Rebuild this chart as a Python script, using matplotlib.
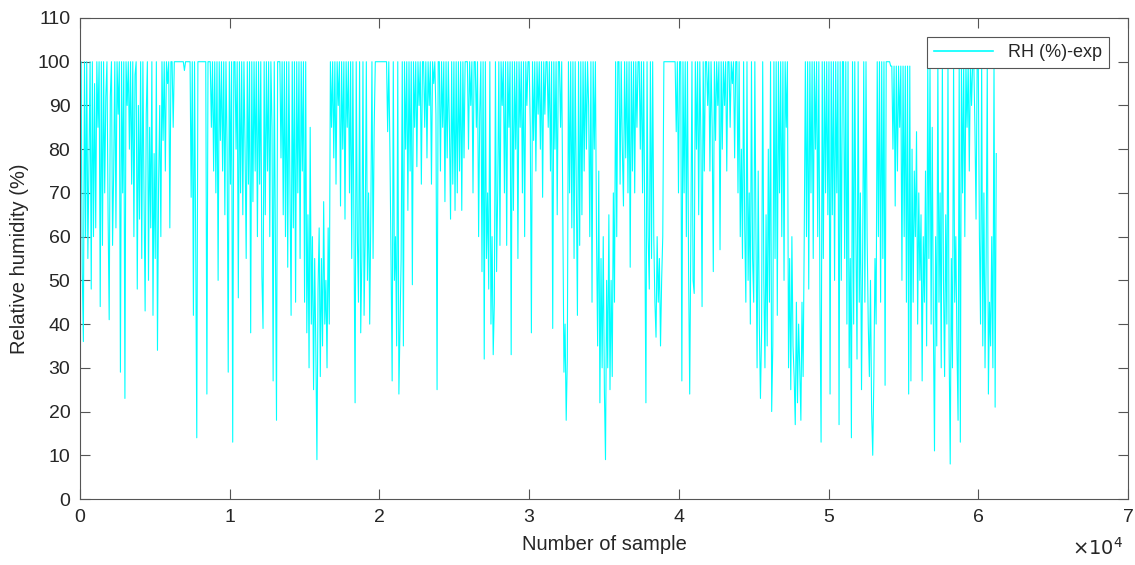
import numpy as np
import matplotlib
matplotlib.use("Agg")
import matplotlib.pyplot as plt

plt.rcParams['font.family'] = ['Liberation Sans', 'DejaVu Sans']

# Relative humidity samples (one value every 75 samples)
sample_step = 75
rh_values = [
    # 0 - 3000
    45, 100, 52, 36, 100, 60, 100, 55, 78, 100, 48, 100, 60, 95, 62, 100, 85, 100, 44, 100,
    58, 100, 70, 92, 100, 65, 41, 92, 100, 58, 75, 100, 62, 100, 88, 100, 29, 100, 70, 100,
    # 3000 - 6000
    23, 100, 90, 100, 80, 100, 72, 100, 60, 97, 100, 48, 90, 64, 100, 55, 100, 70, 43, 88,
    100, 50, 85, 62, 100, 42, 79, 55, 100, 34, 72, 90, 60, 100, 82, 100, 75, 100, 95, 100,
    # 6000 - 9000
    62, 100, 100, 85, 100, 100, 100, 100, 100, 100, 100, 100, 100, 98, 100, 100, 100, 100, 100, 69,
    100, 42, 100, 60, 14, 100, 100, 100, 100, 100, 100, 100, 100, 24, 100, 100, 100, 85, 100, 75,
    # 9000 - 12000
    100, 70, 100, 50, 100, 82, 100, 75, 100, 65, 100, 80, 29, 100, 72, 100, 13, 100, 100, 80,
    100, 46, 100, 70, 100, 65, 100, 80, 55, 100, 72, 100, 38, 100, 68, 100, 75, 100, 60, 100,
    # 12000 - 15000
    72, 100, 51, 39, 100, 65, 100, 75, 100, 60, 100, 85, 27, 100, 60, 18, 100, 100, 100, 78,
    100, 65, 100, 60, 100, 53, 100, 70, 42, 100, 62, 100, 45, 100, 70, 100, 55, 100, 75, 100,
    # 15000 - 18000
    45, 100, 38, 65, 30, 85, 40, 60, 25, 55, 35, 9, 48, 62, 28, 55, 35, 68, 40, 50,
    30, 62, 40, 100, 85, 100, 78, 100, 72, 100, 90, 100, 67, 100, 80, 100, 64, 100, 85, 100,
    # 18000 - 21000
    70, 100, 55, 100, 60, 22, 100, 60, 45, 100, 38, 55, 100, 42, 60, 100, 50, 70, 40, 65,
    100, 55, 85, 100, 100, 100, 100, 100, 100, 100, 100, 100, 100, 100, 84, 100, 80, 55, 27, 100,
    # 21000 - 24000
    50, 60, 35, 100, 24, 40, 55, 100, 35, 100, 80, 100, 66, 100, 75, 100, 49, 100, 85, 100,
    76, 100, 90, 100, 72, 100, 100, 85, 100, 78, 100, 90, 100, 72, 100, 95, 100, 88, 25, 100,
    # 24000 - 27000
    100, 75, 100, 85, 100, 68, 100, 78, 100, 85, 64, 100, 72, 100, 66, 100, 70, 100, 75, 100,
    66, 100, 78, 100, 100, 100, 80, 100, 90, 100, 70, 100, 100, 85, 100, 60, 88, 100, 52, 100,
    # 27000 - 30000
    32, 100, 55, 70, 48, 100, 40, 60, 33, 45, 100, 52, 70, 100, 58, 100, 90, 100, 70, 100,
    58, 100, 85, 100, 33, 100, 66, 100, 80, 100, 55, 100, 85, 100, 70, 100, 60, 100, 90, 100,
    # 30000 - 33000
    100, 85, 38, 100, 82, 100, 75, 100, 88, 100, 80, 100, 69, 100, 88, 100, 100, 85, 100, 75,
    100, 39, 100, 80, 100, 65, 100, 100, 85, 100, 65, 29, 40, 18, 32, 100, 70, 100, 62, 100,
    # 33000 - 36000
    55, 100, 70, 42, 100, 58, 100, 65, 100, 75, 100, 80, 100, 90, 60, 100, 45, 100, 80, 100,
    60, 35, 75, 22, 55, 30, 60, 25, 9, 50, 30, 65, 25, 50, 28, 70, 45, 100, 60, 100,
    # 36000 - 39000
    100, 72, 100, 80, 67, 100, 78, 100, 70, 100, 53, 100, 75, 100, 70, 100, 85, 100, 100, 80,
    100, 70, 100, 60, 22, 100, 60, 48, 100, 55, 100, 60, 45, 37, 60, 45, 55, 35, 50, 60,
    # 39000 - 42000
    100, 100, 100, 100, 100, 100, 100, 100, 100, 100, 100, 84, 100, 70, 100, 100, 27, 100, 70, 100,
    60, 100, 52, 24, 60, 100, 50, 47, 100, 80, 100, 65, 100, 82, 44, 100, 75, 100, 100, 90,
    # 42000 - 45000
    100, 75, 100, 85, 52, 100, 82, 100, 90, 100, 57, 100, 80, 100, 90, 100, 75, 100, 100, 85,
    100, 95, 100, 78, 100, 100, 70, 100, 60, 80, 55, 100, 62, 45, 100, 50, 70, 40, 100, 55,
    # 45000 - 48000
    45, 100, 60, 30, 75, 40, 23, 38, 100, 50, 30, 65, 35, 80, 45, 100, 20, 35, 100, 55,
    100, 42, 100, 70, 100, 60, 100, 50, 100, 85, 100, 30, 55, 25, 60, 35, 28, 17, 45, 22,
    # 48000 - 51000
    40, 30, 18, 45, 28, 60, 100, 60, 100, 48, 100, 70, 100, 55, 100, 80, 100, 60, 100, 45,
    13, 100, 55, 100, 70, 100, 65, 100, 24, 100, 65, 100, 50, 100, 70, 100, 17, 100, 50, 100,
    # 51000 - 54000
    100, 55, 100, 40, 100, 30, 55, 14, 100, 40, 100, 60, 32, 100, 45, 70, 25, 55, 100, 45,
    100, 60, 40, 28, 50, 20, 10, 28, 55, 40, 100, 60, 100, 45, 100, 55, 100, 26, 100, 100,
    # 54000 - 57000
    100, 100, 99, 99, 80, 99, 67, 99, 75, 99, 85, 99, 50, 99, 60, 99, 45, 99, 24, 99,
    27, 80, 45, 75, 60, 84, 40, 70, 50, 65, 27, 60, 45, 75, 35, 100, 55, 100, 40, 85,
    # 57000 - 60000
    40, 11, 60, 35, 100, 45, 70, 30, 100, 50, 28, 65, 40, 100, 35, 8, 55, 30, 100, 45,
    60, 35, 18, 100, 13, 100, 70, 100, 60, 100, 85, 100, 75, 100, 90, 100, 100, 85, 64, 100,
    # 60000 - 61200
    100, 60, 40, 100, 35, 70, 30, 55, 100, 24, 45, 35, 60, 30, 100, 21, 79,
]
x_ticks = [0, 10000, 20000, 30000, 40000, 50000, 60000, 70000]
x_tick_labels = ['0', '1', '2', '3', '4', '5', '6', '7']
y_ticks = list(range(0, 111, 10))

samples = np.arange(len(rh_values)) * sample_step

fig = plt.figure(figsize=(11.35, 5.65), dpi=100)
ax = fig.add_axes([80 / 1135, 1 - 499 / 565, 1048 / 1135, 481 / 565])

ax.plot(samples, rh_values, color='#00FFFF', linewidth=0.8, label='RH (%)-exp')

ax.set_xlim(0, 70000)
ax.set_ylim(0, 110)
ax.set_xticks(x_ticks)
ax.set_xticklabels(x_tick_labels)
ax.set_yticks(y_ticks)

axis_gray = '#555555'
text_gray = '#262626'
for s in ax.spines.values():
    s.set_color(axis_gray)
    s.set_linewidth(0.8)
ax.tick_params(direction='in', length=7, width=0.8, color=axis_gray,
               labelcolor=text_gray, labelsize=14, top=True, right=True, pad=7)

ax.set_xlabel('Number of sample', fontsize=14.5, color=text_gray, labelpad=7)
ax.set_ylabel('Relative humidity (%)', fontsize=14.5, color=text_gray, labelpad=6)

fig.text(1123 / 1135, 1 - 548 / 565, r'$\times10^{4}$', ha='right', va='center',
         fontsize=14, color=text_gray)

leg = ax.legend(loc='upper right', bbox_to_anchor=((1109 - 80) / 1048, (499 - 37) / 481),
                borderaxespad=0, fancybox=False, fontsize=13, handlelength=3.3,
                framealpha=1, edgecolor=axis_gray)
leg.get_frame().set_linewidth(0.8)
for line in leg.get_lines():
    line.set_linewidth(1.2)
for t in leg.get_texts():
    t.set_color(text_gray)

fig.savefig('out.png', dpi=100)
